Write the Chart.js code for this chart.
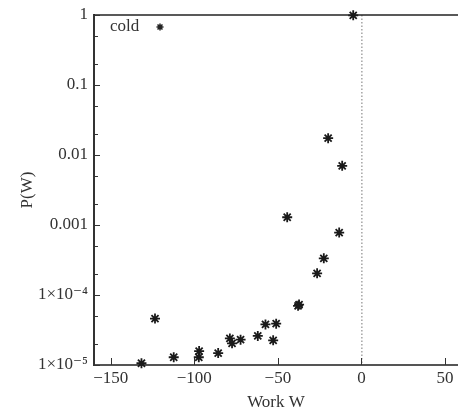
<!DOCTYPE html>
<html>
<head>
<meta charset="utf-8">
<script src="https://cdn.jsdelivr.net/npm/chart.js@4.4.1/dist/chart.umd.min.js"></script>
<style>
  html, body { margin: 0; padding: 0; background: #fff; }
  canvas { display: block; }
</style>
</head>
<body>
<canvas id="myChart" width="458" height="416"></canvas>
<script>
const seriesName = "cold";
const workW = [-4.9, -19.9, -11.5, -44.4, -13.3, -22.5, -26.5, -37.9, -37.3, -57.4, -51.0,
  -62.0, -52.8, -78.7, -77.4, -72.3, -123.5, -131.6, -112.3, -97.1, -97.3, -85.7];
const probW = [0.99, 0.0174, 0.0070, 0.00129, 0.00078, 0.000334, 0.000204, 7.0e-5, 7.3e-5, 3.8e-5, 3.9e-5,
  2.6e-5, 2.25e-5, 2.4e-5, 2.04e-5, 2.3e-5, 4.6e-5, 1.06e-5, 1.29e-5, 1.58e-5, 1.29e-5, 1.48e-5];
const xTicks = [-150, -100, -50, 0, 50];
const yTicks = [1e-5, 1e-4, 1e-3, 1e-2, 1e-1, 1];
const yTickLabels = ["1\u00d710\u207b\u2075", "1\u00d710\u207b\u2074", "0.001", "0.01", "0.1", "1"];
const yMinorFactors = [2, 5];
const zeroLineX = 0;

const points = workW.map((w, i) => ({ x: w, y: probW[i] }));
const serif = "'Liberation Serif', 'DejaVu Serif', serif";

function drawStar(ctx, x, y, r) {
  ctx.beginPath();
  ctx.moveTo(x - r, y); ctx.lineTo(x + r, y);
  ctx.moveTo(x, y - r); ctx.lineTo(x, y + r);
  const d = r * 0.707;
  ctx.moveTo(x - d, y - d); ctx.lineTo(x + d, y + d);
  ctx.moveTo(x - d, y + d); ctx.lineTo(x + d, y - d);
  ctx.stroke();
}

const frame = {
  id: 'frame',
  beforeDatasetsDraw(chart) {
    const { ctx, chartArea: a, scales: { x, y } } = chart;
    ctx.save();
    // dotted line at W = 0
    const zx = x.getPixelForValue(zeroLineX);
    ctx.strokeStyle = '#777';
    ctx.lineWidth = 1;
    ctx.setLineDash([1.5, 2]);
    ctx.beginPath();
    ctx.moveTo(zx + 0.5, a.top);
    ctx.lineTo(zx + 0.5, a.bottom);
    ctx.stroke();
    ctx.setLineDash([]);
    // top border
    ctx.strokeStyle = '#222';
    ctx.lineWidth = 1.5;
    ctx.beginPath();
    ctx.moveTo(a.left, a.top);
    ctx.lineTo(a.right, a.top);
    ctx.stroke();
    // inward ticks
    ctx.strokeStyle = '#333';
    ctx.lineWidth = 1;
    xTicks.forEach(v => {
      const px = Math.round(x.getPixelForValue(v)) + 0.5;
      ctx.beginPath();
      ctx.moveTo(px, a.bottom);
      ctx.lineTo(px, a.bottom - 7);
      ctx.stroke();
    });
    yTicks.forEach((v, i) => {
      const py = Math.round(y.getPixelForValue(v)) + 0.5;
      ctx.beginPath();
      ctx.moveTo(a.left, py);
      ctx.lineTo(a.left + 6, py);
      ctx.stroke();
      if (i < yTicks.length - 1) {
        yMinorFactors.forEach(f => {
          const my = Math.round(y.getPixelForValue(v * f)) + 0.5;
          ctx.beginPath();
          ctx.moveTo(a.left, my);
          ctx.lineTo(a.left + 4, my);
          ctx.stroke();
        });
      }
    });
    // key
    ctx.fillStyle = '#333';
    ctx.font = '17px ' + serif;
    ctx.textBaseline = 'middle';
    ctx.textAlign = 'left';
    ctx.fillText(seriesName, a.left + 16, a.top + 12);
    ctx.strokeStyle = '#222';
    ctx.lineWidth = 1.5;
    drawStar(ctx, a.left + 66, a.top + 12, 3.5);
    ctx.restore();
  }
};

new Chart(document.getElementById('myChart'), {
  type: 'scatter',
  data: {
    datasets: [{
      label: seriesName,
      data: points,
      pointStyle: 'star',
      pointRadius: 5,
      pointHoverRadius: 5,
      borderColor: '#1a1a1a',
      backgroundColor: '#1a1a1a',
      borderWidth: 1.8,
      clip: false
    }]
  },
  options: {
    responsive: false,
    animation: false,
    layout: { autoPadding: false, padding: { top: 15, right: 0, left: 0, bottom: 0 } },
    plugins: { legend: { display: false }, tooltip: { enabled: false } },
    scales: {
      x: {
        type: 'linear',
        min: -160,
        max: 57.8,
        afterBuildTicks: s => { s.ticks = xTicks.map(v => ({ value: v })); },
        afterFit: s => { s.height = 51; s.paddingLeft = 0; s.paddingRight = 0; },
        grid: { display: false, drawTicks: false },
        border: { display: true, color: '#555', width: 2 },
        ticks: {
          padding: 3,
          color: '#333',
          font: { family: serif, size: 17 },
          callback: v => (v < 0 ? '\u2212' + Math.abs(v) : String(v))
        },
        title: {
          display: true,
          text: 'Work W',
          color: '#333',
          font: { family: serif, size: 17 },
          padding: { top: 0, bottom: 3 }
        }
      },
      y: {
        type: 'logarithmic',
        min: 1e-5,
        max: 1,
        afterBuildTicks: s => { s.ticks = yTicks.map(v => ({ value: v })); },
        afterFit: s => { s.width = 94; s.paddingTop = 0; s.paddingBottom = 0; },
        grid: { display: false, drawTicks: false },
        border: { display: true, color: '#333', width: 2 },
        ticks: {
          padding: 6,
          color: '#333',
          font: { family: serif, size: 17 },
          callback: v => {
            const i = yTicks.findIndex(t => Math.abs(Math.log10(t) - Math.log10(v)) < 1e-6);
            return i >= 0 ? yTickLabels[i] : '';
          }
        },
        title: {
          display: true,
          text: 'P(W)',
          color: '#333',
          font: { family: serif, size: 17 },
          padding: { top: 17, bottom: 0 }
        }
      }
    }
  },
  plugins: [frame]
});
</script>
</body>
</html>
